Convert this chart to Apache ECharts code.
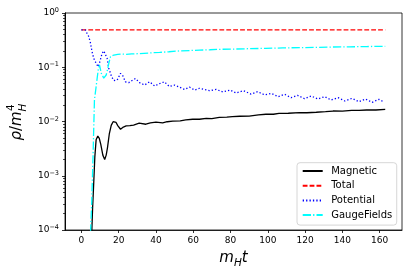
<!DOCTYPE html>
<html>
<head>
<meta charset="utf-8">
<script src="https://cdn.jsdelivr.net/npm/echarts@6/dist/echarts.min.js"></script>
<style>
html,body{margin:0;padding:0;background:#fff;}
#chart{width:411px;height:277px;}
</style>
</head>
<body>
<div id="chart"></div>
<script>
// ---- data ----
const magT = [5.3, 6.0, 6.6, 7.2, 7.9, 8.8, 9.6, 10.4, 11.5, 12.5, 13.3, 14.0, 15.0, 16.0, 17.0, 17.8, 18.6, 19.5, 21.0, 22.5, 24, 26, 28, 31, 34.6, 37, 40, 43.6, 46, 49, 53, 56, 59.7, 63.3, 67, 70, 74, 78, 81, 85, 90, 95, 99, 103, 106, 111, 117, 121, 126, 131, 135, 140, 145, 149, 153, 158, 163];
const magV = [5e-5, 2.5e-4, 7.2e-4, 0.0022, 0.0046, 0.0054, 0.0049, 0.0038, 0.0024, 0.0020, 0.0024, 0.0033, 0.006, 0.0085, 0.0099, 0.0103, 0.0096, 0.0084, 0.0072, 0.0079, 0.0083, 0.0084, 0.0086, 0.0093, 0.0089, 0.0094, 0.0097, 0.0094, 0.0099, 0.0102, 0.0103, 0.0107, 0.011, 0.011, 0.0114, 0.0113, 0.0119, 0.012, 0.0123, 0.0125, 0.0126, 0.0132, 0.0136, 0.0136, 0.0141, 0.0142, 0.0146, 0.0145, 0.0148, 0.0152, 0.0156, 0.0155, 0.016, 0.0161, 0.0163, 0.0163, 0.0167];

const totT = [0, 163];
const totV = [0.49, 0.49];

const potT = [0, 1, 2, 3, 4, 4.9, 5.7, 6.6, 7.9, 9.0, 10.0, 11.1, 12.0, 12.5, 13.8, 14.7, 16.2, 17.4, 19.2, 21.0, 22.3, 23.6, 25.4, 27.2, 29, 31.2, 33.9, 36.6, 39.3, 42, 44.5, 47.2, 50, 52.6, 55.3, 58, 60.7, 63.4, 68.7, 72.3, 75.9, 79.8, 83, 87, 91, 94.6, 98.2, 101.8, 105.7, 109, 112.5, 116, 119.7, 123.3, 126.9, 130.5, 134, 137.7, 141.3, 145.2, 148.8, 152.4, 156, 159.6, 162];
const potV = [0.49, 0.49, 0.49, 0.48, 0.366, 0.276, 0.194, 0.146, 0.118, 0.102, 0.13, 0.18, 0.2, 0.198, 0.146, 0.096, 0.067, 0.057, 0.058, 0.077, 0.069, 0.054, 0.052, 0.057, 0.062, 0.052, 0.047, 0.054, 0.045, 0.050, 0.054, 0.044, 0.047, 0.043, 0.039, 0.043, 0.038, 0.041, 0.037, 0.039, 0.035, 0.038, 0.0335, 0.037, 0.032, 0.0355, 0.031, 0.033, 0.0287, 0.0317, 0.0275, 0.0303, 0.0263, 0.0295, 0.026, 0.0287, 0.0249, 0.0275, 0.0239, 0.0267, 0.0232, 0.026, 0.0226, 0.0256, 0.0232];

const gauT = [4.6, 5.5, 6.2, 7.0, 7.9, 9.0, 9.7, 10.7, 12.0, 13.3, 14.0, 14.7, 15.6, 17.4, 19.5, 21.9, 24, 27, 31, 36, 42, 47, 52.6, 58, 63.4, 69, 74, 81, 90, 99, 108, 117, 126, 135, 144, 153, 163];
const gauV = [5e-5, 3e-4, 2e-3, 0.025, 0.044, 0.089, 0.11, 0.077, 0.063, 0.072, 0.09, 0.118, 0.157, 0.168, 0.172, 0.175, 0.173, 0.176, 0.178, 0.183, 0.188, 0.193, 0.2, 0.203, 0.207, 0.21, 0.214, 0.216, 0.22, 0.223, 0.227, 0.23, 0.232, 0.236, 0.238, 0.241, 0.243];

const seriesNames = ['Magnetic', 'Total', 'Potential', 'GaugeFields'];
const xTicks = [0, 20, 40, 60, 80, 100, 120, 140, 160];
const yTicks = [1e-4, 1e-3, 1e-2, 1e-1, 1];
const yMinorTicks = [];
for (let e = -4; e < 0; e++) {
  for (let m = 2; m <= 9; m++) yMinorTicks.push(m * Math.pow(10, e));
}

function pairs(t, v) { return t.map((x, i) => [x, v[i]]); }

const FONT = 'DejaVu Sans';
const chart = echarts.init(document.getElementById('chart'), null, {renderer: 'canvas'});

function lineSeries(name, t, v, color, type) {
  return {
    name: name, type: 'line', data: pairs(t, v),
    xAxisIndex: 0, yAxisIndex: 0,
    symbol: 'none', showSymbol: false, clip: true, animation: false,
    lineStyle: {color: color, width: 1.3, type: type, cap: 'butt'},
    itemStyle: {color: color}
  };
}

const option = {
  animation: false,
  backgroundColor: '#fff',
  grid: {left: 65, right: 9, top: 13, bottom: 47, show: true, borderColor: '#000', borderWidth: 0.8, backgroundColor: 'transparent'},
  xAxis: [{
    type: 'value', min: -8.8, max: 172,
    axisLine: {show: true, onZero: false, lineStyle: {color: '#000', width: 0.8}},
    axisTick: {show: true, customValues: xTicks, length: 3, lineStyle: {color: '#000', width: 0.8}},
    axisLabel: {show: true, customValues: xTicks, margin: 6, color: '#000', fontFamily: FONT, fontSize: 9},
    splitLine: {show: false},
    name: '{m|m}{s|H}{m|t}', nameLocation: 'middle', nameGap: 21,
    nameTextStyle: {
      rich: {
        m: {fontFamily: FONT, fontStyle: 'italic', fontSize: 15, color: '#000', lineHeight: 18, verticalAlign: 'top'},
        s: {fontFamily: FONT, fontStyle: 'italic', fontSize: 10.5, color: '#000', lineHeight: 18, verticalAlign: 'bottom', padding: [0, 0, 0, 0]}
      }
    }
  }],
  yAxis: [{
    type: 'log', logBase: 10, min: 1e-4, max: 1, position: 'left', offset: 0,
    axisLine: {show: true, onZero: false, lineStyle: {color: '#000', width: 0.8}},
    axisTick: {show: true, customValues: yTicks, length: 3, lineStyle: {color: '#000', width: 0.8}},
    axisLabel: {
      show: true, customValues: yTicks, margin: 6,
      formatter: function (v) {
        const e = Math.round(Math.log10(v));
        return '{b|10}{s|' + (e < 0 ? '\u2212' + (-e) : String(e)) + '}';
      },
      rich: {
        b: {fontFamily: FONT, fontSize: 9, color: '#000', lineHeight: 12},
        s: {fontFamily: FONT, fontSize: 6.5, color: '#000', lineHeight: 6, verticalAlign: 'top'}
      }
    },
    splitLine: {show: false}
  }, {
    type: 'log', logBase: 10, min: 1e-4, max: 1, position: 'left', offset: 0,
    axisLine: {show: true, onZero: false, lineStyle: {color: '#000', width: 0.8}},
    axisTick: {show: true, customValues: yMinorTicks, length: 2, lineStyle: {color: '#000', width: 0.7}},
    axisLabel: {show: false},
    splitLine: {show: false}
  }],
  legend: {
    data: seriesNames,
    orient: 'vertical', left: 297, top: 162.7,
    padding: [3.3, 4.5, 5, 4.7],
    itemWidth: 20, itemHeight: 10, itemGap: 4.7,
    itemStyle: {opacity: 0},
    backgroundColor: 'rgba(255,255,255,0.8)',
    borderColor: '#cccccc', borderWidth: 0.8, borderRadius: 3,
    textStyle: {fontFamily: FONT, fontSize: 10, color: '#000', lineHeight: 10, padding: [0, 0, 0, 3.5]}
  },
  graphic: [{
    type: 'group', x: 17, y: 122, rotation: Math.PI / 2, silent: true,
    children: [
      {type: 'text', x: -18.5, y: 0, style: {
        text: '{i|\u03c1}{r|/}{i|m}', verticalAlign: 'middle', align: 'left',
        rich: {
          i: {fontFamily: FONT, fontStyle: 'italic', fontSize: 15, fill: '#000'},
          r: {fontFamily: FONT, fontSize: 15, fill: '#000'}
        }
      }},
      {type: 'text', x: 11, y: -6, style: {text: '4', fontFamily: FONT, fontSize: 10.5, fill: '#000', verticalAlign: 'middle', align: 'left'}},
      {type: 'text', x: 10.5, y: 6, style: {text: 'H', fontFamily: FONT, fontStyle: 'italic', fontSize: 10.5, fill: '#000', verticalAlign: 'middle', align: 'left'}}
    ]
  }],
  series: [
    lineSeries('Magnetic', magT, magV, '#000000', 'solid'),
    lineSeries('Total', totT, totV, '#ff0000', [4.8, 2.1]),
    lineSeries('Potential', potT, potV, '#0000ff', [1.3, 2.1]),
    lineSeries('GaugeFields', gauT, gauV, '#00ffff', [8.3, 2.1, 1.3, 2.1])
  ]
};
chart.setOption(option);
</script>
</body>
</html>
